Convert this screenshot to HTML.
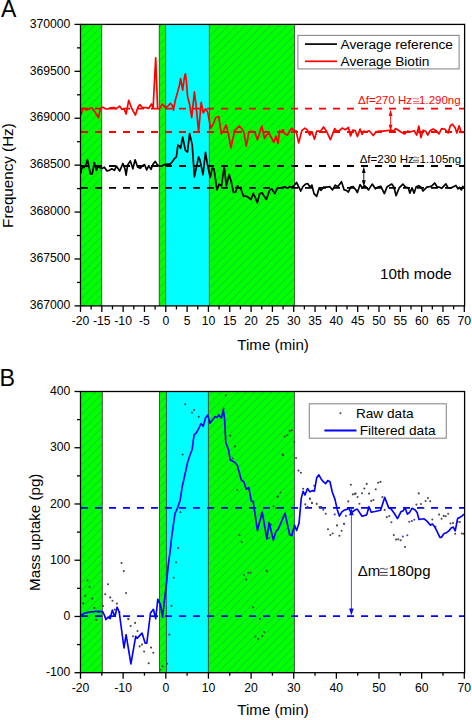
<!DOCTYPE html>
<html><head><meta charset="utf-8"><title>Figure</title>
<style>
html,body{margin:0;padding:0;background:#fff;width:472px;height:720px;overflow:hidden;}
svg{display:block;font-family:"Liberation Sans",sans-serif;}
</style></head><body>
<svg width="472" height="720" viewBox="0 0 472 720">
<defs>
<pattern id="hatchA" patternUnits="userSpaceOnUse" width="8.4" height="8.4" patternTransform="translate(2.0 0)"><path d="M-1 1 L1 -1 M0 8.4 L8.4 0 M7.4 9.4 L9.4 7.4" stroke="#1f9a55" stroke-width="0.9" stroke-opacity="0.68"/></pattern>
<pattern id="hatchB" patternUnits="userSpaceOnUse" width="8.4" height="8.4" patternTransform="translate(0.2 0)"><path d="M-1 1 L1 -1 M0 8.4 L8.4 0 M7.4 9.4 L9.4 7.4" stroke="#1f9a55" stroke-width="0.9" stroke-opacity="0.68"/></pattern>
<clipPath id="clipA"><rect x="80.5" y="24.4" width="383.8" height="281.5"/></clipPath>
<clipPath id="clipB"><rect x="80.5" y="391.5" width="383.8" height="281.2"/></clipPath>
</defs>
<rect width="472" height="720" fill="#fff"/>
<rect x="80.5" y="24.4" width="21.2" height="281.5" fill="#00ff00"/>
<rect x="80.5" y="24.4" width="21.2" height="281.5" fill="url(#hatchA)"/>
<rect x="159.3" y="24.4" width="6.3" height="281.5" fill="#00ff00"/>
<rect x="159.3" y="24.4" width="6.3" height="281.5" fill="url(#hatchA)"/>
<rect x="165.6" y="24.4" width="43.8" height="281.5" fill="#00ffff"/>
<rect x="209.4" y="24.4" width="85.2" height="281.5" fill="#00ff00"/>
<rect x="209.4" y="24.4" width="85.2" height="281.5" fill="url(#hatchA)"/>
<line x1="101.7" y1="24.4" x2="101.7" y2="305.9" stroke="#404040" stroke-width="0.9"/>
<line x1="159.3" y1="24.4" x2="159.3" y2="305.9" stroke="#404040" stroke-width="0.9"/>
<line x1="165.6" y1="24.4" x2="165.6" y2="305.9" stroke="#404040" stroke-width="0.9"/>
<line x1="209.4" y1="24.4" x2="209.4" y2="305.9" stroke="#404040" stroke-width="0.9"/>
<line x1="294.6" y1="24.4" x2="294.6" y2="305.9" stroke="#404040" stroke-width="0.9"/>
<g clip-path="url(#clipA)">
<line x1="81" y1="108.7" x2="464.3" y2="108.7" stroke="#ff0000" stroke-width="1.8" stroke-dasharray="7 7"/>
<line x1="81" y1="132" x2="464.3" y2="132" stroke="#ff0000" stroke-width="1.8" stroke-dasharray="7 7"/>
<line x1="81" y1="166" x2="464.3" y2="166" stroke="#000000" stroke-width="1.8" stroke-dasharray="7 7"/>
<line x1="81" y1="187.9" x2="464.3" y2="187.9" stroke="#000000" stroke-width="1.8" stroke-dasharray="7 7"/>
<polyline points="80.6,115.0 81.1,114.6 82.6,108.8 84.2,108.2 86.4,109.8 88.5,109.5 90.0,108.2 92.2,108.2 95.0,112.0 98.5,117.8 100.0,109.8 101.2,107.7 102.8,107.2 105.4,108.8 108.0,109.0 110.5,107.8 113.9,107.5 116.0,108.8 119.7,106.1 121.8,109.3 124.0,108.8 126.1,114.0 128.7,100.3 131.5,108.0 135.4,115.1 137.7,107.7 139.8,104.6 142.5,107.7 146.2,107.7 148.8,108.3 151.5,104.0 153.1,108.3 155.7,57.9 157.6,108.5 159.5,108.8 162.3,104.1 165.5,107.6 167.5,106.5 170.3,103.4 172.2,105.3 173.4,110.1 175.3,100.3 177.3,93.3 179.5,85.0 180.6,78.5 182.7,90.2 184.3,78.0 185.4,73.8 186.4,81.2 187.5,96.0 189.6,104.5 191.7,117.7 194.4,91.8 196.0,104.5 198.6,132.0 201.2,102.4 203.4,113.0 205.5,108.7 207.6,111.9 210.8,128.3 213.4,123.6 215.6,117.7 218.7,116.5 221.4,133.9 223.5,130.7 226.1,124.9 228.2,132.8 230.9,147.7 234.6,130.7 239.4,126.0 243.6,131.2 246.3,146.1 248.9,131.8 251.5,131.3 254.7,131.8 257.4,139.7 261.8,126.0 264.5,138.5 266.4,135.0 269.0,133.5 271.0,137.0 273.8,142.4 275.9,136.0 278.0,143.4 279.6,130.7 281.0,131.8 282.8,129.7 284.9,133.9 287.5,135.0 289.7,130.7 291.8,128.1 293.9,131.2 296.0,130.7 298.7,142.9 301.8,130.7 305.0,128.1 307.1,129.7 309.8,135.0 311.9,131.8 314.5,139.2 316.7,131.2 320.6,131.2 323.5,127.0 326.2,130.7 330.4,139.7 334.7,128.6 336.8,131.2 339.4,130.7 342.1,128.1 345.3,129.7 348.4,127.5 350.6,136.0 352.7,130.2 355.3,130.7 357.4,136.5 360.1,129.1 362.2,134.4 363.8,131.2 366.4,131.8 369.1,130.7 373.3,135.5 376.0,131.8 379.7,131.2 382.8,131.2 387.1,130.7 391.3,130.2 393.4,131.2 395.6,128.6 397.6,129.7 399.8,131.2 404.5,133.9 407.7,131.2 410.9,131.8 414.1,130.7 416.7,135.0 418.8,126.0 421.0,137.6 423.1,130.2 425.7,131.2 427.8,135.0 430.0,130.7 433.1,129.1 436.3,130.7 439.0,133.9 441.6,128.6 444.8,129.0 448.1,133.0 450.3,125.8 452.5,124.2 455.2,128.0 456.9,133.0 459.1,125.8 461.3,132.4 463.5,132.4" fill="none" stroke="#ff0000" stroke-width="1.7" stroke-linejoin="round"/>
<polyline points="80.6,173.6 81.6,168.3 83.5,167.5 85.5,166.0 87.4,159.8 89.0,167.2 90.6,174.1 92.2,174.1 94.3,162.5 96.4,170.4 98.0,166.2 100.1,167.8 102.3,168.3 104.4,167.2 107.0,171.0 109.1,170.4 111.8,168.8 114.4,170.4 116.5,166.2 119.7,171.0 122.9,163.5 125.0,169.0 126.1,175.2 127.6,165.1 130.3,160.9 132.9,168.8 135.1,159.8 137.7,167.2 140.4,168.3 142.5,165.7 144.6,164.6 146.7,169.9 148.8,165.7 151.0,169.4 153.1,164.1 155.2,161.4 157.3,164.6 159.0,166.2 161.5,166.2 164.2,164.6 165.8,164.6 167.9,164.1 170.0,164.2 171.6,162.7 174.2,158.9 176.4,156.8 177.9,145.1 179.5,146.1 180.6,148.3 182.7,137.2 185.4,150.4 187.5,152.0 189.6,133.5 192.2,144.6 194.4,176.9 198.6,156.8 200.0,160.3 203.0,174.7 205.5,152.3 207.6,165.4 210.2,177.3 212.3,168.0 214.0,168.8 217.0,190.0 219.1,184.1 221.5,186.0 224.2,165.8 226.3,185.8 229.2,174.7 231.3,182.0 233.5,192.5 235.6,192.0 237.7,185.8 239.0,188.0 240.4,187.5 243.6,196.5 246.0,196.0 248.5,197.5 251.0,199.7 253.1,193.4 255.0,197.0 257.4,202.9 259.5,193.9 262.1,192.8 263.2,194.7 266.4,199.4 269.5,190.4 271.7,188.8 274.8,193.6 277.5,187.8 281.0,187.8 284.4,186.7 287.5,188.3 289.7,186.7 291.8,187.2 293.9,185.7 296.5,182.5 298.5,186.5 300.8,191.0 302.9,186.7 305.3,184.3 307.6,183.5 310.0,187.0 311.9,185.1 314.0,193.6 316.7,196.3 319.3,187.8 320.9,190.4 323.5,187.2 326.7,187.2 329.9,186.7 332.5,189.9 335.2,185.1 337.8,186.7 341.5,181.7 344.2,189.9 346.3,190.4 348.4,192.0 350.6,187.2 353.2,186.7 355.8,189.8 357.4,192.5 360.1,184.6 362.2,187.8 364.8,185.7 368.5,189.9 372.2,184.1 375.4,188.8 377.5,187.2 380.7,186.2 384.4,193.6 387.1,186.7 391.8,184.1 394.0,187.2 396.1,195.7 399.2,187.8 402.9,184.1 405.6,187.2 408.3,187.8 409.8,193.1 412.0,187.8 414.1,193.1 416.2,186.7 418.8,185.7 421.0,187.2 423.1,191.0 426.8,187.2 429.9,186.7 432.1,185.7 434.7,183.0 437.4,187.2 439.5,187.2 441.6,188.3 445.9,183.9 447.9,187.9 450.9,187.9 453.9,186.4 455.9,185.4 457.9,188.9 459.4,187.4 461.4,189.9 462.8,186.4 463.8,188.0" fill="none" stroke="#000000" stroke-width="1.7" stroke-linejoin="round"/>
</g>
<line x1="390.6" y1="114.9" x2="390.6" y2="125.7" stroke="#ff0000" stroke-width="0.9"/>
<path d="M390.6 109.4 L388.7 115.9 L392.5 115.9 Z" fill="#ff0000"/>
<path d="M390.6 131.2 L388.7 124.7 L392.5 124.7 Z" fill="#ff0000"/>
<line x1="363.8" y1="172.1" x2="363.8" y2="181.3" stroke="#000000" stroke-width="0.9"/>
<path d="M363.8 166.6 L361.9 173.1 L365.7 173.1 Z" fill="#000000"/>
<path d="M363.8 186.8 L361.9 180.3 L365.7 180.3 Z" fill="#000000"/>
<g stroke="#000" stroke-width="1.3" fill="none">
<rect x="80.5" y="24.4" width="384.1" height="281.5"/>
<line x1="80.5" y1="305.9" x2="80.5" y2="311.9"/>
<line x1="91.16" y1="305.9" x2="91.16" y2="309.4"/>
<line x1="101.82" y1="305.9" x2="101.82" y2="311.9"/>
<line x1="112.48" y1="305.9" x2="112.48" y2="309.4"/>
<line x1="123.14" y1="305.9" x2="123.14" y2="311.9"/>
<line x1="133.81" y1="305.9" x2="133.81" y2="309.4"/>
<line x1="144.47" y1="305.9" x2="144.47" y2="311.9"/>
<line x1="155.13" y1="305.9" x2="155.13" y2="309.4"/>
<line x1="165.79" y1="305.9" x2="165.79" y2="311.9"/>
<line x1="176.45" y1="305.9" x2="176.45" y2="309.4"/>
<line x1="187.11" y1="305.9" x2="187.11" y2="311.9"/>
<line x1="197.77" y1="305.9" x2="197.77" y2="309.4"/>
<line x1="208.43" y1="305.9" x2="208.43" y2="311.9"/>
<line x1="219.09" y1="305.9" x2="219.09" y2="309.4"/>
<line x1="229.76" y1="305.9" x2="229.76" y2="311.9"/>
<line x1="240.42" y1="305.9" x2="240.42" y2="309.4"/>
<line x1="251.08" y1="305.9" x2="251.08" y2="311.9"/>
<line x1="261.74" y1="305.9" x2="261.74" y2="309.4"/>
<line x1="272.4" y1="305.9" x2="272.4" y2="311.9"/>
<line x1="283.06" y1="305.9" x2="283.06" y2="309.4"/>
<line x1="293.72" y1="305.9" x2="293.72" y2="311.9"/>
<line x1="304.38" y1="305.9" x2="304.38" y2="309.4"/>
<line x1="315.04" y1="305.9" x2="315.04" y2="311.9"/>
<line x1="325.71" y1="305.9" x2="325.71" y2="309.4"/>
<line x1="336.37" y1="305.9" x2="336.37" y2="311.9"/>
<line x1="347.03" y1="305.9" x2="347.03" y2="309.4"/>
<line x1="357.69" y1="305.9" x2="357.69" y2="311.9"/>
<line x1="368.35" y1="305.9" x2="368.35" y2="309.4"/>
<line x1="379.01" y1="305.9" x2="379.01" y2="311.9"/>
<line x1="389.67" y1="305.9" x2="389.67" y2="309.4"/>
<line x1="400.33" y1="305.9" x2="400.33" y2="311.9"/>
<line x1="410.99" y1="305.9" x2="410.99" y2="309.4"/>
<line x1="421.66" y1="305.9" x2="421.66" y2="311.9"/>
<line x1="432.32" y1="305.9" x2="432.32" y2="309.4"/>
<line x1="442.98" y1="305.9" x2="442.98" y2="311.9"/>
<line x1="453.64" y1="305.9" x2="453.64" y2="309.4"/>
<line x1="464.3" y1="305.9" x2="464.3" y2="311.9"/>
<line x1="74.5" y1="305.9" x2="80.5" y2="305.9"/>
<line x1="74.5" y1="258.98" x2="80.5" y2="258.98"/>
<line x1="74.5" y1="212.07" x2="80.5" y2="212.07"/>
<line x1="74.5" y1="165.15" x2="80.5" y2="165.15"/>
<line x1="74.5" y1="118.23" x2="80.5" y2="118.23"/>
<line x1="74.5" y1="71.32" x2="80.5" y2="71.32"/>
<line x1="74.5" y1="24.4" x2="80.5" y2="24.4"/>
<line x1="77" y1="282.44" x2="80.5" y2="282.44"/>
<line x1="77" y1="235.53" x2="80.5" y2="235.53"/>
<line x1="77" y1="188.61" x2="80.5" y2="188.61"/>
<line x1="77" y1="141.69" x2="80.5" y2="141.69"/>
<line x1="77" y1="94.78" x2="80.5" y2="94.78"/>
<line x1="77" y1="47.86" x2="80.5" y2="47.86"/>
</g>
<rect x="297.9" y="35.4" width="161.2" height="33.5" fill="#fff" stroke="#8a8a8a" stroke-width="1.1"/>
<line x1="305" y1="44.1" x2="337" y2="44.1" stroke="#000" stroke-width="1.7"/>
<line x1="305" y1="61.3" x2="337" y2="61.3" stroke="#ff0000" stroke-width="1.7"/>
<g font-family="'Liberation Sans', sans-serif" fill="#000">
<text x="1.0" y="17.3" font-size="23">A</text>
<g font-size="12.2">
<text x="70.3" y="309.1" text-anchor="end">367000</text>
<text x="70.3" y="262.18" text-anchor="end">367500</text>
<text x="70.3" y="215.27" text-anchor="end">368000</text>
<text x="70.3" y="168.35" text-anchor="end">368500</text>
<text x="70.3" y="121.43" text-anchor="end">369000</text>
<text x="70.3" y="74.52" text-anchor="end">369500</text>
<text x="70.3" y="27.6" text-anchor="end">370000</text>
<text x="80.5" y="325.3" text-anchor="middle">-20</text>
<text x="101.82" y="325.3" text-anchor="middle">-15</text>
<text x="123.14" y="325.3" text-anchor="middle">-10</text>
<text x="144.47" y="325.3" text-anchor="middle">-5</text>
<text x="165.79" y="325.3" text-anchor="middle">0</text>
<text x="187.11" y="325.3" text-anchor="middle">5</text>
<text x="208.43" y="325.3" text-anchor="middle">10</text>
<text x="229.76" y="325.3" text-anchor="middle">15</text>
<text x="251.08" y="325.3" text-anchor="middle">20</text>
<text x="272.4" y="325.3" text-anchor="middle">25</text>
<text x="293.72" y="325.3" text-anchor="middle">30</text>
<text x="315.04" y="325.3" text-anchor="middle">35</text>
<text x="336.37" y="325.3" text-anchor="middle">40</text>
<text x="357.69" y="325.3" text-anchor="middle">45</text>
<text x="379.01" y="325.3" text-anchor="middle">50</text>
<text x="400.33" y="325.3" text-anchor="middle">55</text>
<text x="421.66" y="325.3" text-anchor="middle">60</text>
<text x="442.98" y="325.3" text-anchor="middle">65</text>
<text x="464.3" y="325.3" text-anchor="middle">70</text>
</g>
<text x="340.6" y="48.8" font-size="13.7">Average reference</text>
<text x="340.6" y="65.7" font-size="13.7">Average Biotin</text>
<text x="380.0" y="279.1" font-size="15.2">10th mode</text>
<text x="237.3" y="349.7" font-size="15.1">Time (min)</text>
<text transform="translate(12.7 227.9) rotate(-90)" font-size="15.2">Frequency (Hz)</text>
</g>
<g font-family="'Liberation Sans', sans-serif" font-size="11.5">
<text x="358.0" y="103.8" fill="#ff0000">Δf=270 Hz</text>
<path d="M413 99.05 C414.05 98 415.1 98.28 416 98.7 S417.95 99.4 419 98.35" fill="none" stroke="#ff0000" stroke-width="0.6"/><line x1="413" y1="101.5" x2="419" y2="101.5" stroke="#ff0000" stroke-width="0.6"/><line x1="413" y1="103.4" x2="419" y2="103.4" stroke="#ff0000" stroke-width="0.6"/>
<text x="419.1" y="103.8" fill="#ff0000">1.290ng</text>
<text x="359.7" y="162.6" fill="#000">Δf=230 Hz</text>
<path d="M413 157.85 C414.05 156.8 415.1 157.08 416 157.5 S417.95 158.2 419 157.15" fill="none" stroke="#000" stroke-width="0.6"/><line x1="413" y1="160.3" x2="419" y2="160.3" stroke="#000" stroke-width="0.6"/><line x1="413" y1="162.2" x2="419" y2="162.2" stroke="#000" stroke-width="0.6"/>
<text x="419.5" y="162.6" fill="#000">1.105ng</text>
</g>
<rect x="80.5" y="391.5" width="21.8" height="281.2" fill="#00ff00"/>
<rect x="80.5" y="391.5" width="21.8" height="281.2" fill="url(#hatchB)"/>
<rect x="159.5" y="391.5" width="6.9" height="281.2" fill="#00ff00"/>
<rect x="159.5" y="391.5" width="6.9" height="281.2" fill="url(#hatchB)"/>
<rect x="166.4" y="391.5" width="42" height="281.2" fill="#00ffff"/>
<rect x="208.4" y="391.5" width="86" height="281.2" fill="#00ff00"/>
<rect x="208.4" y="391.5" width="86" height="281.2" fill="url(#hatchB)"/>
<line x1="102.3" y1="391.5" x2="102.3" y2="672.7" stroke="#404040" stroke-width="0.9"/>
<line x1="159.5" y1="391.5" x2="159.5" y2="672.7" stroke="#404040" stroke-width="0.9"/>
<line x1="166.4" y1="391.5" x2="166.4" y2="672.7" stroke="#404040" stroke-width="0.9"/>
<line x1="208.4" y1="391.5" x2="208.4" y2="672.7" stroke="#404040" stroke-width="0.9"/>
<line x1="294.4" y1="391.5" x2="294.4" y2="672.7" stroke="#404040" stroke-width="0.9"/>
<g clip-path="url(#clipB)">
<line x1="81" y1="507.8" x2="464.3" y2="507.8" stroke="#0000ff" stroke-width="1.8" stroke-dasharray="7 7"/>
<line x1="81" y1="616.2" x2="464.3" y2="616.2" stroke="#0000ff" stroke-width="1.8" stroke-dasharray="7 7"/>
<g fill="#4a4a4a"><circle cx="83.1" cy="603.2" r="1.05"/><circle cx="85.2" cy="595.7" r="1.05"/><circle cx="87.5" cy="580.4" r="1.05"/><circle cx="89.6" cy="586.9" r="1.05"/><circle cx="92.3" cy="598.6" r="1.05"/><circle cx="94.2" cy="607.9" r="1.05"/><circle cx="96.4" cy="620.0" r="1.05"/><circle cx="98.7" cy="612.1" r="1.05"/><circle cx="103.1" cy="606.0" r="1.05"/><circle cx="105.2" cy="594.3" r="1.05"/><circle cx="108.1" cy="584.3" r="1.05"/><circle cx="110.2" cy="597.4" r="1.05"/><circle cx="112.5" cy="600.8" r="1.05"/><circle cx="116.9" cy="603.6" r="1.05"/><circle cx="114.7" cy="609.6" r="1.05"/><circle cx="119.4" cy="612.2" r="1.05"/><circle cx="121.5" cy="563.0" r="1.05"/><circle cx="123.8" cy="571.1" r="1.05"/><circle cx="126.1" cy="593.1" r="1.05"/><circle cx="128.5" cy="619.1" r="1.05"/><circle cx="128.2" cy="618.8" r="1.05"/><circle cx="130.7" cy="626.0" r="1.05"/><circle cx="135.1" cy="622.9" r="1.05"/><circle cx="137.5" cy="631.0" r="1.05"/><circle cx="133.0" cy="636.3" r="1.05"/><circle cx="139.6" cy="646.4" r="1.05"/><circle cx="142.0" cy="644.6" r="1.05"/><circle cx="144.1" cy="651.5" r="1.05"/><circle cx="151.0" cy="647.6" r="1.05"/><circle cx="153.3" cy="652.7" r="1.05"/><circle cx="148.7" cy="663.3" r="1.05"/><circle cx="162.5" cy="666.3" r="1.05"/><circle cx="160.0" cy="669.6" r="1.05"/><circle cx="167.1" cy="663.8" r="1.05"/><circle cx="169.3" cy="634.6" r="1.05"/><circle cx="171.6" cy="605.9" r="1.05"/><circle cx="173.8" cy="577.8" r="1.05"/><circle cx="176.0" cy="562.3" r="1.05"/><circle cx="178.2" cy="548.0" r="1.05"/><circle cx="180.5" cy="512.3" r="1.05"/><circle cx="182.6" cy="454.5" r="1.05"/><circle cx="185.2" cy="404.3" r="1.05"/><circle cx="194.1" cy="410.0" r="1.05"/><circle cx="191.9" cy="412.6" r="1.05"/><circle cx="198.8" cy="416.8" r="1.05"/><circle cx="225.8" cy="395.2" r="1.05"/><circle cx="223.7" cy="408.5" r="1.05"/><circle cx="230.4" cy="435.8" r="1.05"/><circle cx="235.0" cy="446.4" r="1.05"/><circle cx="232.7" cy="458.5" r="1.05"/><circle cx="237.2" cy="490.0" r="1.05"/><circle cx="239.5" cy="535.3" r="1.05"/><circle cx="241.8" cy="542.3" r="1.05"/><circle cx="243.8" cy="575.1" r="1.05"/><circle cx="248.2" cy="572.8" r="1.05"/><circle cx="250.6" cy="572.8" r="1.05"/><circle cx="246.3" cy="579.6" r="1.05"/><circle cx="253.1" cy="607.4" r="1.05"/><circle cx="259.9" cy="618.9" r="1.05"/><circle cx="264.2" cy="632.1" r="1.05"/><circle cx="262.2" cy="636.0" r="1.05"/><circle cx="255.4" cy="636.6" r="1.05"/><circle cx="258.0" cy="639.0" r="1.05"/><circle cx="266.7" cy="570.9" r="1.05"/><circle cx="269.2" cy="538.0" r="1.05"/><circle cx="271.0" cy="524.5" r="1.05"/><circle cx="273.4" cy="506.2" r="1.05"/><circle cx="276.1" cy="508.2" r="1.05"/><circle cx="278.1" cy="496.6" r="1.05"/><circle cx="280.3" cy="492.5" r="1.05"/><circle cx="277.5" cy="496.7" r="1.05"/><circle cx="283.1" cy="455.0" r="1.05"/><circle cx="282.5" cy="454.6" r="1.05"/><circle cx="284.7" cy="436.5" r="1.05"/><circle cx="287.2" cy="435.0" r="1.05"/><circle cx="289.6" cy="430.9" r="1.05"/><circle cx="291.8" cy="430.3" r="1.05"/><circle cx="294.3" cy="442.0" r="1.05"/><circle cx="296.1" cy="458.0" r="1.05"/><circle cx="298.5" cy="470.6" r="1.05"/><circle cx="300.9" cy="472.8" r="1.05"/><circle cx="303.1" cy="488.8" r="1.05"/><circle cx="314.3" cy="485.8" r="1.05"/><circle cx="309.8" cy="498.5" r="1.05"/><circle cx="305.3" cy="504.4" r="1.05"/><circle cx="311.9" cy="502.9" r="1.05"/><circle cx="307.5" cy="506.9" r="1.05"/><circle cx="310.0" cy="498.9" r="1.05"/><circle cx="312.0" cy="503.0" r="1.05"/><circle cx="316.7" cy="503.9" r="1.05"/><circle cx="319.4" cy="507.0" r="1.05"/><circle cx="321.0" cy="506.7" r="1.05"/><circle cx="323.3" cy="509.7" r="1.05"/><circle cx="325.8" cy="513.7" r="1.05"/><circle cx="348.3" cy="501.4" r="1.05"/><circle cx="350.9" cy="484.8" r="1.05"/><circle cx="352.8" cy="494.4" r="1.05"/><circle cx="355.0" cy="493.9" r="1.05"/><circle cx="357.6" cy="497.0" r="1.05"/><circle cx="359.4" cy="503.7" r="1.05"/><circle cx="337.0" cy="525.4" r="1.05"/><circle cx="328.0" cy="529.3" r="1.05"/><circle cx="341.6" cy="530.7" r="1.05"/><circle cx="332.7" cy="533.5" r="1.05"/><circle cx="330.3" cy="535.0" r="1.05"/><circle cx="339.4" cy="535.7" r="1.05"/><circle cx="344.2" cy="523.8" r="1.05"/><circle cx="355.6" cy="493.6" r="1.05"/><circle cx="362.0" cy="493.3" r="1.05"/><circle cx="364.3" cy="488.5" r="1.05"/><circle cx="366.7" cy="483.9" r="1.05"/><circle cx="369.0" cy="493.6" r="1.05"/><circle cx="371.3" cy="500.9" r="1.05"/><circle cx="373.4" cy="500.0" r="1.05"/><circle cx="375.7" cy="489.2" r="1.05"/><circle cx="378.1" cy="482.7" r="1.05"/><circle cx="380.4" cy="481.9" r="1.05"/><circle cx="382.4" cy="497.1" r="1.05"/><circle cx="384.7" cy="509.9" r="1.05"/><circle cx="386.8" cy="517.1" r="1.05"/><circle cx="389.3" cy="516.0" r="1.05"/><circle cx="391.4" cy="522.2" r="1.05"/><circle cx="393.8" cy="535.1" r="1.05"/><circle cx="396.1" cy="539.6" r="1.05"/><circle cx="398.2" cy="539.2" r="1.05"/><circle cx="400.6" cy="540.2" r="1.05"/><circle cx="405.0" cy="547.0" r="1.05"/><circle cx="411.8" cy="521.1" r="1.05"/><circle cx="418.7" cy="493.4" r="1.05"/><circle cx="427.9" cy="498.1" r="1.05"/><circle cx="425.6" cy="501.0" r="1.05"/><circle cx="430.2" cy="501.3" r="1.05"/><circle cx="420.9" cy="504.0" r="1.05"/><circle cx="416.4" cy="504.6" r="1.05"/><circle cx="423.4" cy="508.0" r="1.05"/><circle cx="432.3" cy="519.5" r="1.05"/><circle cx="435.5" cy="526.8" r="1.05"/><circle cx="439.1" cy="514.6" r="1.05"/><circle cx="441.6" cy="518.8" r="1.05"/><circle cx="443.8" cy="515.9" r="1.05"/><circle cx="445.7" cy="516.3" r="1.05"/><circle cx="448.2" cy="513.8" r="1.05"/><circle cx="450.5" cy="523.5" r="1.05"/><circle cx="453.0" cy="523.0" r="1.05"/><circle cx="455.2" cy="533.7" r="1.05"/><circle cx="457.7" cy="521.8" r="1.05"/><circle cx="459.9" cy="522.0" r="1.05"/><circle cx="461.9" cy="533.5" r="1.05"/><circle cx="463.4" cy="533.7" r="1.05"/></g>
<g fill="#4646e6"><circle cx="345.9" cy="515.9" r="1.05"/><circle cx="343.9" cy="523.9" r="1.05"/><circle cx="402.9" cy="536.6" r="1.05"/><circle cx="407.3" cy="535.3" r="1.05"/><circle cx="414.3" cy="519.7" r="1.05"/><circle cx="409.2" cy="521.8" r="1.05"/><circle cx="334.7" cy="514.4" r="1.05"/></g>
<polyline points="80.5,615.7 84.3,613.3 89.3,612.1 95.2,611.5 100.2,611.4 102.7,611.7 104.3,615.0 106.0,619.6 108.1,617.0 110.2,618.6 112.3,610.1 113.9,614.3 115.0,616.2 117.1,607.2 119.2,612.0 124.0,648.0 126.1,634.7 130.9,663.9 135.7,636.3 137.2,638.4 142.0,633.1 145.2,643.2 146.8,643.2 150.5,613.0 153.4,609.3 155.7,618.8 157.8,599.2 160.4,604.5 162.5,617.2 166.7,581.3 168.2,565.6 170.3,550.0 171.7,536.7 175.0,513.3 176.7,510.0 180.0,500.8 182.5,485.0 183.3,482.0 187.7,461.9 190.0,455.0 192.2,449.2 194.1,434.6 196.0,433.3 198.5,429.0 201.0,423.5 203.2,426.3 205.5,418.0 207.8,414.9 209.9,423.1 213.1,419.3 215.0,416.8 217.0,417.5 218.8,414.9 221.4,418.0 223.3,409.8 224.5,418.0 225.8,442.8 228.4,449.2 230.3,460.0 233.8,461.7 237.2,465.0 241.3,480.0 243.8,481.7 246.3,489.2 248.8,487.5 251.3,501.2 253.2,501.4 257.4,530.5 262.2,512.0 266.9,539.0 269.1,522.5 273.3,540.0 276.0,531.5 278.1,529.4 285.0,513.3 289.7,534.7 291.8,535.8 294.5,525.0 296.6,530.5 299.0,523.3 301.3,498.1 303.1,491.3 305.0,495.0 307.5,488.5 310.0,491.9 312.2,490.6 314.4,491.1 316.7,477.8 318.9,474.8 321.1,478.9 323.3,481.7 325.6,483.7 327.8,480.6 330.0,481.7 332.2,491.7 335.0,499.4 337.2,509.4 339.4,516.1 341.7,512.2 343.9,510.3 346.7,509.4 348.9,508.3 351.1,512.8 355.0,510.0 357.3,509.1 362.0,516.3 366.7,514.9 369.0,506.7 371.3,512.2 375.0,511.5 380.6,510.2 384.7,497.4 388.8,508.1 391.1,509.1 394.0,513.0 397.5,518.6 401.0,511.6 403.0,511.0 405.1,507.9 407.4,514.2 409.6,512.3 412.0,508.3 415.2,510.0 417.1,512.5 419.0,519.5 424.1,518.8 427.2,521.4 430.4,525.2 432.3,523.9 434.9,527.1 437.4,532.2 439.9,537.3 441.5,537.3 443.8,533.7 446.3,532.8 448.8,530.9 451.4,527.7 453.3,527.1 455.2,530.9 457.7,518.2 459.6,517.6 461.5,516.3 464.1,514.1" fill="none" stroke="#0000ff" stroke-width="1.65" stroke-linejoin="round"/>
</g>
<line x1="351.4" y1="514.2" x2="351.4" y2="609.6" stroke="#4848ff" stroke-width="1.0"/>
<path d="M351.4 508.2 L349.1 515.2 L353.7 515.2 Z" fill="#0a0af0"/>
<path d="M351.4 615.6 L349.1 608.6 L353.7 608.6 Z" fill="#0a0af0"/>
<g stroke="#000" stroke-width="1.3" fill="none">
<rect x="80.5" y="391.5" width="384.1" height="281.2"/>
<line x1="80.5" y1="672.7" x2="80.5" y2="678.7"/>
<line x1="101.82" y1="672.7" x2="101.82" y2="675.7"/>
<line x1="123.14" y1="672.7" x2="123.14" y2="678.7"/>
<line x1="144.47" y1="672.7" x2="144.47" y2="675.7"/>
<line x1="165.79" y1="672.7" x2="165.79" y2="678.7"/>
<line x1="187.11" y1="672.7" x2="187.11" y2="675.7"/>
<line x1="208.43" y1="672.7" x2="208.43" y2="678.7"/>
<line x1="229.76" y1="672.7" x2="229.76" y2="675.7"/>
<line x1="251.08" y1="672.7" x2="251.08" y2="678.7"/>
<line x1="272.4" y1="672.7" x2="272.4" y2="675.7"/>
<line x1="293.72" y1="672.7" x2="293.72" y2="678.7"/>
<line x1="315.04" y1="672.7" x2="315.04" y2="675.7"/>
<line x1="336.37" y1="672.7" x2="336.37" y2="678.7"/>
<line x1="357.69" y1="672.7" x2="357.69" y2="675.7"/>
<line x1="379.01" y1="672.7" x2="379.01" y2="678.7"/>
<line x1="400.33" y1="672.7" x2="400.33" y2="675.7"/>
<line x1="421.66" y1="672.7" x2="421.66" y2="678.7"/>
<line x1="442.98" y1="672.7" x2="442.98" y2="675.7"/>
<line x1="464.3" y1="672.7" x2="464.3" y2="678.7"/>
<line x1="74.5" y1="672.7" x2="80.5" y2="672.7"/>
<line x1="74.5" y1="616.46" x2="80.5" y2="616.46"/>
<line x1="74.5" y1="560.22" x2="80.5" y2="560.22"/>
<line x1="74.5" y1="503.98" x2="80.5" y2="503.98"/>
<line x1="74.5" y1="447.74" x2="80.5" y2="447.74"/>
<line x1="74.5" y1="391.5" x2="80.5" y2="391.5"/>
<line x1="77" y1="644.58" x2="80.5" y2="644.58"/>
<line x1="77" y1="588.34" x2="80.5" y2="588.34"/>
<line x1="77" y1="532.1" x2="80.5" y2="532.1"/>
<line x1="77" y1="475.86" x2="80.5" y2="475.86"/>
<line x1="77" y1="419.62" x2="80.5" y2="419.62"/>
</g>
<rect x="309.3" y="403.8" width="137" height="34.4" fill="#fff" stroke="#8a8a8a" stroke-width="1.1"/>
<circle cx="340.4" cy="413.2" r="1.05" fill="#4a4a4a"/>
<line x1="324.4" y1="430.4" x2="356.5" y2="430.4" stroke="#0000ff" stroke-width="2"/>
<g font-family="'Liberation Sans', sans-serif" fill="#000">
<text x="-0.6" y="385.6" font-size="23.3">B</text>
<g font-size="12.2">
<text x="70.3" y="676.4" text-anchor="end">-100</text>
<text x="70.3" y="620.16" text-anchor="end">0</text>
<text x="70.3" y="563.92" text-anchor="end">100</text>
<text x="70.3" y="507.68" text-anchor="end">200</text>
<text x="70.3" y="451.44" text-anchor="end">300</text>
<text x="70.3" y="395.2" text-anchor="end">400</text>
<text x="80.5" y="692.2" text-anchor="middle">-20</text>
<text x="123.14" y="692.2" text-anchor="middle">-10</text>
<text x="165.79" y="692.2" text-anchor="middle">0</text>
<text x="208.43" y="692.2" text-anchor="middle">10</text>
<text x="251.08" y="692.2" text-anchor="middle">20</text>
<text x="293.72" y="692.2" text-anchor="middle">30</text>
<text x="336.37" y="692.2" text-anchor="middle">40</text>
<text x="379.01" y="692.2" text-anchor="middle">50</text>
<text x="421.66" y="692.2" text-anchor="middle">60</text>
<text x="464.3" y="692.2" text-anchor="middle">70</text>
</g>
<text x="355.9" y="417.6" font-size="13.65">Raw data</text>
<text x="359.7" y="434.6" font-size="13.65">Filtered data</text>
<text x="237.3" y="715.4" font-size="15.1">Time (min)</text>
<text transform="translate(39.8 590.9) rotate(-90)" font-size="15.2">Mass uptake (pg)</text>
<text x="357.75" y="575.6" font-size="15">Δm</text>
<path d="M380 569.25 C381.35 567.9 382.69 568.26 383.85 568.8 S386.35 569.7 387.7 568.35" fill="none" stroke="#2a2a3a" stroke-width="0.9"/><line x1="380" y1="572.5" x2="387.7" y2="572.5" stroke="#2a2a3a" stroke-width="0.9"/><line x1="380" y1="575.3" x2="387.7" y2="575.3" stroke="#2a2a3a" stroke-width="0.9"/>
<text x="388.8" y="575.6" font-size="15">180pg</text>
</g>
</svg>
</body></html>
